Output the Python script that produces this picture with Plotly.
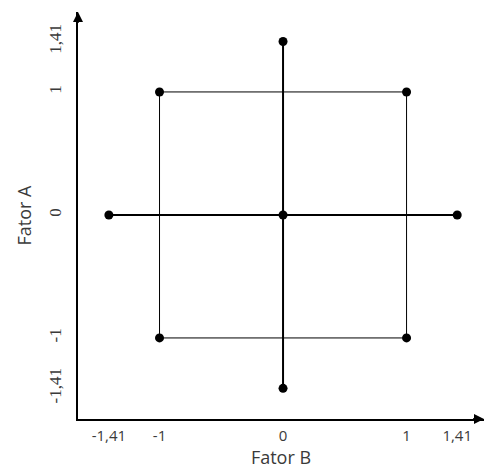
import plotly.graph_objects as go

# Design points (Fator B = x, Fator A = y)
alpha = 1.41
square_x = [-1, 1, 1, -1, -1]
square_y = [1, 1, -1, -1, 1]
horiz_x = [-alpha, alpha]
horiz_y = [0, 0]
vert_x = [0, 0]
vert_y = [-alpha, alpha]
points_x = [-1, 1, -1, 1, -alpha, alpha, 0, 0, 0]
points_y = [1, 1, -1, -1, 0, 0, -alpha, alpha, 0]

tick_vals = [-1.41, -1, 0, 1, 1.41]
tick_text = ["-1,41", "-1", "0", "1", "1,41"]

xr = [-1.66, 1.627]
yr = [-1.659, 1.65]

fig = go.Figure()
fig.add_trace(go.Scatter(x=square_x, y=square_y, mode="lines",
                         line=dict(color="black", width=1), hoverinfo="skip"))
fig.add_trace(go.Scatter(x=horiz_x, y=horiz_y, mode="lines",
                         line=dict(color="black", width=2), hoverinfo="skip"))
fig.add_trace(go.Scatter(x=vert_x, y=vert_y, mode="lines",
                         line=dict(color="black", width=2), hoverinfo="skip"))
fig.add_trace(go.Scatter(x=points_x, y=points_y, mode="markers",
                         marker=dict(color="black", size=9)))

# axis arrows
fig.add_annotation(x=xr[1], y=yr[0], ax=xr[1] - 0.1, ay=yr[0], xref="x", yref="y",
                   axref="x", ayref="y", showarrow=True, arrowhead=2, arrowsize=1,
                   arrowwidth=2, arrowcolor="black", text="")
fig.add_annotation(x=xr[0], y=yr[1], ax=xr[0], ay=yr[1] - 0.1, xref="x", yref="y",
                   axref="x", ayref="y", showarrow=True, arrowhead=2, arrowsize=1,
                   arrowwidth=2, arrowcolor="black", text="")

txt = "#3a3a3a"
fig.update_layout(
    width=486, height=475,
    margin=dict(l=78, r=2, t=12, b=56),
    plot_bgcolor="white", paper_bgcolor="white",
    showlegend=False,
    xaxis=dict(range=xr, showgrid=False, zeroline=False, showline=True,
               linecolor="black", linewidth=2, tickvals=tick_vals, ticktext=tick_text,
               ticks="outside", ticklen=2, tickcolor="rgba(0,0,0,0)",
               tickfont=dict(family="Open Sans", size=15, color=txt),
               title=dict(text="Fator B", standoff=4,
                          font=dict(family="Open Sans", size=18, color=txt))),
    yaxis=dict(range=yr, showgrid=False, zeroline=False, showline=True,
               linecolor="black", linewidth=2, tickvals=tick_vals, ticktext=tick_text,
               tickangle=-90, ticks="outside", ticklen=8, tickcolor="rgba(0,0,0,0)",
               tickfont=dict(family="Liberation Serif", size=17, color=txt),
               title=dict(text="Fator A", standoff=10,
                          font=dict(family="Open Sans", size=18, color=txt))),
)

fig.write_html("out.html")
